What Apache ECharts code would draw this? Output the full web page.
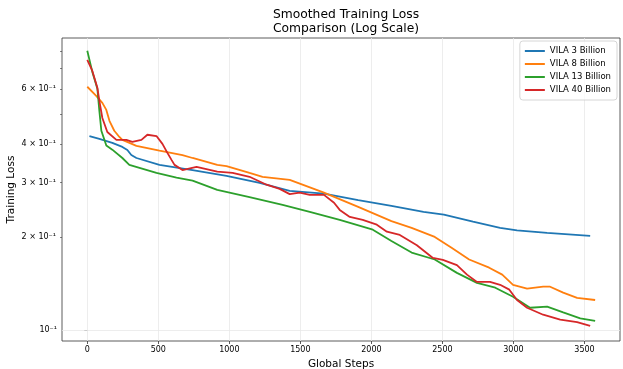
<!DOCTYPE html>
<html>
<head>
<meta charset="utf-8">
<script src="https://cdn.jsdelivr.net/npm/echarts@6/dist/echarts.min.js"></script>
<style>
html,body{margin:0;padding:0;background:#fff;}
#chart{width:623px;height:369px;}
</style>
</head>
<body>
<div id="chart"></div>
<script>
// ---- data ----
const seriesNames = ['VILA 3 Billion', 'VILA 8 Billion', 'VILA 13 Billion', 'VILA 40 Billion'];

const steps3 = [15, 85, 176, 247, 282, 310, 346, 508, 741, 980, 1213, 1425, 1666, 1907, 2141, 2367, 2510, 2715, 2906, 3025, 3237, 3540];
const loss3  = [0.424, 0.415, 0.403, 0.391, 0.382, 0.368, 0.360, 0.342, 0.329, 0.315, 0.299, 0.282, 0.276, 0.263, 0.252, 0.241, 0.236, 0.224, 0.214, 0.210, 0.206, 0.2015];

const steps8 = [0, 63, 106, 134, 156, 190, 226, 247, 346, 508, 670, 741, 915, 980, 1142, 1234, 1425, 1666, 1907, 2141, 2283, 2446, 2567, 2688, 2829, 2921, 2997, 3096, 3209, 3258, 3350, 3448, 3575];
const loss8  = [0.612, 0.572, 0.543, 0.515, 0.475, 0.441, 0.421, 0.412, 0.394, 0.380, 0.368, 0.360, 0.342, 0.339, 0.322, 0.313, 0.306, 0.278, 0.250, 0.225, 0.214, 0.200, 0.184, 0.169, 0.159, 0.151, 0.140, 0.136, 0.138, 0.138, 0.132, 0.127, 0.125];

const steps13 = [0, 35, 71, 85, 99, 134, 176, 247, 296, 487, 628, 741, 915, 1142, 1375, 1566, 1777, 2010, 2141, 2283, 2446, 2602, 2743, 2872, 2997, 3117, 3237, 3350, 3470, 3575];
const loss13  = [0.800, 0.685, 0.603, 0.511, 0.441, 0.395, 0.383, 0.360, 0.342, 0.322, 0.311, 0.304, 0.284, 0.269, 0.254, 0.241, 0.227, 0.211, 0.194, 0.178, 0.169, 0.153, 0.142, 0.137, 0.128, 0.118, 0.119, 0.114, 0.109, 0.107];

const steps40 = [0, 35, 71, 85, 106, 141, 205, 275, 317, 381, 423, 487, 529, 564, 593, 614, 670, 769, 915, 1023, 1142, 1262, 1354, 1425, 1495, 1566, 1666, 1737, 1777, 1848, 1939, 2038, 2109, 2200, 2320, 2433, 2503, 2602, 2673, 2743, 2835, 2906, 2971, 3025, 3096, 3209, 3329, 3448, 3540];
const loss40  = [0.748, 0.690, 0.607, 0.551, 0.485, 0.437, 0.412, 0.412, 0.406, 0.412, 0.428, 0.424, 0.400, 0.374, 0.355, 0.342, 0.329, 0.337, 0.325, 0.322, 0.313, 0.295, 0.286, 0.275, 0.278, 0.2735, 0.2735, 0.258, 0.2445, 0.232, 0.227, 0.219, 0.208, 0.203, 0.188, 0.171, 0.1685, 0.162, 0.151, 0.143, 0.143, 0.140, 0.135, 0.125, 0.118, 0.112, 0.108, 0.106, 0.103];

const xTicks = [0, 500, 1000, 1500, 2000, 2500, 3000, 3500];
const yMajorTicks = [0.1];
const yMinorLabelTicks = [0.2, 0.3, 0.4, 0.6];
const yMinorTicks = [0.2, 0.3, 0.4, 0.5, 0.6, 0.7, 0.8, 0.9];
const yLabelText = {0.1: '10\u207B\u00B9', 0.2: '2 \u00D7 10\u207B\u00B9', 0.3: '3 \u00D7 10\u207B\u00B9', 0.4: '4 \u00D7 10\u207B\u00B9', 0.6: '6 \u00D7 10\u207B\u00B9'};

const colors = ['#1f77b4', '#ff7f0e', '#2ca02c', '#d62728'];
const FONT = 'DejaVu Sans';

function pairs(xs, ys) { return xs.map((x, i) => [x, ys[i]]); }
const allData = [pairs(steps3, loss3), pairs(steps8, loss8), pairs(steps13, loss13), pairs(steps40, loss40)];

function fmtY(v) {
  const k = Math.round(v * 10) / 10;
  return yLabelText[k] || '';
}

const chart = echarts.init(document.getElementById('chart'), null, {renderer: 'canvas'});
const yCommon = {
  type: 'log', logBase: 10, min: 0.0921, max: 0.88, position: 'left'
};
chart.setOption({
  animation: false,
  color: colors,
  textStyle: {fontFamily: FONT},
  title: {
    text: 'Smoothed Training Loss\nComparison (Log Scale)',
    left: 341, top: 3, textAlign: 'center',
    textStyle: {fontFamily: FONT, fontSize: 12.3, fontWeight: 'normal', color: '#000', lineHeight: 14}
  },
  grid: {left: 62, right: 3, top: 38, bottom: 28, show: true, borderColor: '#333', borderWidth: 0.8,
         backgroundColor: 'transparent', outerBoundsMode: 'none', containLabel: false},
  legend: {
    orient: 'vertical', right: 6, top: 41,
    data: seriesNames.map(n => ({name: n, icon: 'rect'})),
    itemWidth: 20, itemHeight: 2, itemGap: 3,
    padding: [5, 6, 5, 5],
    borderColor: '#cccccc', borderWidth: 0.8, borderRadius: 3,
    backgroundColor: 'rgba(255,255,255,0.8)',
    textStyle: {fontFamily: FONT, fontSize: 8.5, color: '#000', lineHeight: 10, padding: [0, 0, 0, 0]}
  },
  xAxis: {
    type: 'value', min: -178, max: 3750,
    name: 'Global Steps', nameLocation: 'middle', nameGap: 15,
    nameTextStyle: {fontFamily: FONT, fontSize: 10.5, color: '#000'},
    axisLine: {show: false},
    axisTick: {show: true, length: 3, customValues: xTicks, lineStyle: {color: '#333', width: 0.8}},
    axisLabel: {customValues: xTicks, formatter: v => String(v), fontFamily: FONT, fontSize: 8, color: '#000', margin: 5},
    splitLine: {show: true, lineStyle: {color: '#e8e8e8', width: 0.8}}
  },
  yAxis: [
    Object.assign({}, yCommon, {
      name: 'Training Loss', nameLocation: 'middle', nameGap: 45,
      nameTextStyle: {fontFamily: FONT, fontSize: 10.5, color: '#000'},
      axisLine: {show: false},
      axisTick: {show: true, length: 3, customValues: yMajorTicks, lineStyle: {color: '#333', width: 0.8}},
      axisLabel: {customValues: yMajorTicks, formatter: fmtY, fontFamily: FONT, fontSize: 8, color: '#000', margin: 5},
      splitLine: {show: false}
    }),
    Object.assign({}, yCommon, {
      axisLine: {show: false},
      axisTick: {show: true, length: 2, customValues: yMinorTicks, lineStyle: {color: '#333', width: 0.6}},
      axisLabel: {customValues: yMinorLabelTicks, formatter: fmtY, fontFamily: FONT, fontSize: 8, color: '#000', margin: 6},
      splitLine: {show: false}
    })
  ],
  series: seriesNames.map((n, i) => ({
    name: n, type: 'line', yAxisIndex: 0, data: allData[i],
    showSymbol: false, symbol: 'none', smooth: false,
    lineStyle: {width: 1.8, color: colors[i]}, itemStyle: {color: colors[i]},
    z: 2 + i,
    markLine: i === 0 ? {
      silent: true, symbol: 'none', label: {show: false}, animation: false,
      lineStyle: {color: '#e8e8e8', width: 0.8, type: 'solid'},
      data: [{yAxis: yMajorTicks[0]}], z: 1
    } : undefined
  }))
});
</script>
</body>
</html>
